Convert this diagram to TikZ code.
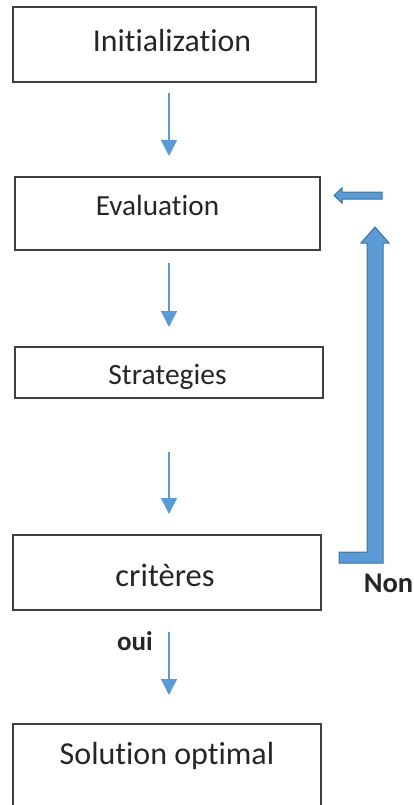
\documentclass[tikz,border=0pt]{standalone}
\usepackage{fontspec}
\setmainfont{Carlito}[Ligatures={NoCommon}]
\usetikzlibrary{arrows.meta}
\definecolor{boxline}{HTML}{404040}
\definecolor{flowblue}{HTML}{5B9BD5}
\definecolor{flowedge}{HTML}{41719C}
\tikzset{
  box/.style={draw=boxline, line width=1.2pt, rectangle, inner sep=0pt},
  txt/.style={inner sep=0pt, text=black!85},
  flow/.style={draw=flowblue, line width=1.6pt, -{Triangle[width=16pt,length=16pt]}},
  blockarrow/.style={fill=flowblue, draw=flowedge, line width=1pt},
}
\begin{document}
\begin{tikzpicture}[x=1pt,y=-1pt]
\useasboundingbox (0,0) rectangle (414,805);
\begin{scope}
\clip (0,0) rectangle (414,805);
% boxes
\node[box, minimum width=303pt, minimum height=75pt] (b1) at (164.5,44.5) {};
\node[box, minimum width=305pt, minimum height=73pt] (b2) at (167.5,213.5) {};
\node[box, minimum width=308pt, minimum height=51pt] (b3) at (169,372.5) {};
\node[box, minimum width=308pt, minimum height=75pt] (b4) at (167,572.5) {};
\node[box, minimum width=308pt, minimum height=92pt] (b5) at (167,770) {};
\end{scope}
% texts
\node[txt, font=\fontsize{31.8}{36}\selectfont] (t1) at (172,41) {Initialization};
\node[txt, font=\fontsize{29.2}{34}\selectfont] (t2) at (157.5,205) {Evaluation};
\node[txt, font=\fontsize{29.5}{34}\selectfont] (t3) at (167.5,377) {Strategies};
\node[txt, font=\fontsize{32.5}{38}\selectfont] (t4) at (165,575) {critères};
\node[txt, font=\fontsize{32}{38}\selectfont] (t5) at (167,756) {Solution optimal};
\node[txt, font=\fontsize{28.5}{34}\selectfont\bfseries] (non) at (388.5,583) {Non};
\node[txt, font=\fontsize{27}{32}\selectfont\bfseries] (oui) at (135,641) {oui};
% thin arrows
\coordinate (a1s) at (169,93);  \coordinate (a1e) at (169,156);
\coordinate (a2s) at (169,263); \coordinate (a2e) at (169,327);
\coordinate (a3s) at (169,452); \coordinate (a3e) at (169,514);
\coordinate (a4s) at (169,632); \coordinate (a4e) at (169,695);
\draw[flow] (a1s) -- (a1e);
\draw[flow] (a2s) -- (a2e);
\draw[flow] (a3s) -- (a3e);
\draw[flow] (a4s) -- (a4e);
% block arrows
\draw[blockarrow] (339,552) -- (367,552) -- (367,243) -- (361,243) -- (375,227) -- (389,243) -- (383,243) -- (383,563) -- (339,563) -- cycle;
\draw[blockarrow] (382,192) -- (342,192) -- (342,188) -- (334,195.5) -- (342,203) -- (342,199) -- (382,199) -- cycle;
\end{tikzpicture}
\end{document}
